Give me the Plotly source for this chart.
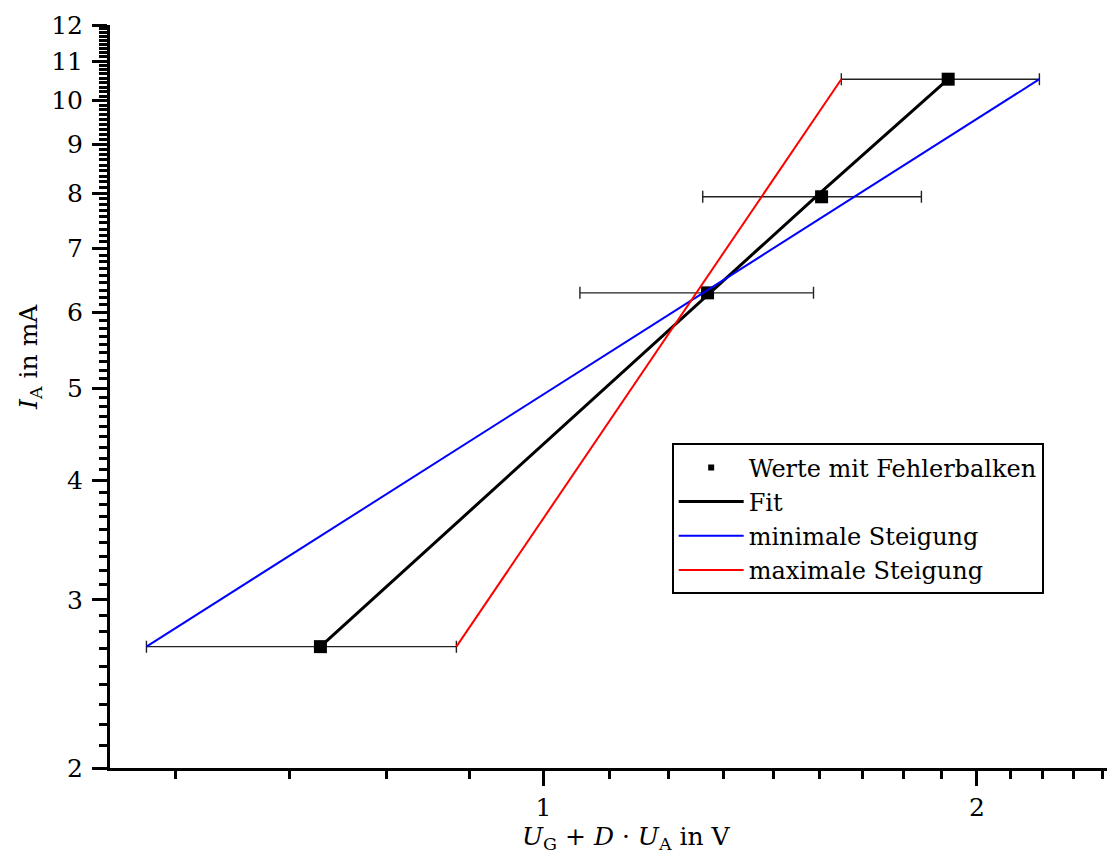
import math
import plotly.graph_objects as go

# data (U in V, I in mA)
u_vals = [0.70, 1.30, 1.56, 1.91]
i_vals = [2.68, 6.29, 7.93, 10.53]
u_err = [0.17, 0.24, 0.27, 0.30]
fit_i = [2.68, 6.26, 8.03, 10.53]

x_tick_vals = [1, 2]
x_tick_text = ["1", "2"]
y_tick_vals = [2, 3, 4, 5, 6, 7, 8, 9, 10, 11, 12]
y_tick_text = [str(v) for v in y_tick_vals]

legend_names = ["Werte mit Fehlerbalken", "Fit", "minimale Steigung", "maximale Steigung"]

# minor ticks: ninths between integers
x_minor = [1 - k / 9 for k in range(1, 5)] + [1 + k / 9 for k in range(1, 9)] + [2 + k / 9 for k in range(1, 5)]
y_minor = [n + k / 9 for n in range(2, 12) for k in range(1, 9)]

FONT = "DejaVu Serif"

fig = go.Figure()

# data points with error bars
fig.add_trace(go.Scatter(
    x=u_vals, y=i_vals, mode="markers", showlegend=False,
    marker=dict(symbol="square", size=13, color="black"),
    error_x=dict(type="data", array=u_err, color="#222222", thickness=1.4, width=6),
))
# legend proxy for data points
fig.add_trace(go.Scatter(
    x=[None], y=[None], mode="markers", name=legend_names[0], legendrank=1,
    marker=dict(symbol="square", size=6, color="black"),
))
# fit
fig.add_trace(go.Scatter(
    x=u_vals, y=fit_i, mode="lines", name=legend_names[1], legendrank=2,
    line=dict(color="black", width=3),
))
# minimal slope
fig.add_trace(go.Scatter(
    x=[u_vals[0] - u_err[0], u_vals[-1] + u_err[-1]], y=[i_vals[0], i_vals[-1]],
    mode="lines", name=legend_names[2], legendrank=3,
    line=dict(color="#0000ff", width=2),
))
# maximal slope
fig.add_trace(go.Scatter(
    x=[u_vals[0] + u_err[0], u_vals[-1] - u_err[-1]], y=[i_vals[0], i_vals[-1]],
    mode="lines", name=legend_names[3], legendrank=4,
    line=dict(color="#ff0000", width=2),
))

axis_common = dict(
    showgrid=False, zeroline=False, showline=True, linecolor="black", linewidth=3,
    ticks="outside", ticklen=15, tickwidth=2.5, tickcolor="black",
    tickfont=dict(family=FONT, size=25, color="black"),
)

fig.update_xaxes(
    type="log", range=[math.log10(0.5), math.log10(2.486)],
    tickmode="array", tickvals=x_tick_vals, ticktext=x_tick_text,
    minor=dict(tickmode="array", tickvals=x_minor, ticks="outside", ticklen=8,
               tickwidth=2.5, tickcolor="black"),
    **axis_common,
)
fig.update_yaxes(
    type="log", range=[math.log10(2), math.log10(12)],
    tickmode="array", tickvals=y_tick_vals, ticktext=y_tick_text,
    ticklabelstandoff=4,
    minor=dict(tickmode="array", tickvals=y_minor, ticks="outside", ticklen=8,
               tickwidth=2.5, tickcolor="black"),
    **axis_common,
)

fig.add_annotation(
    text="<i>U</i><sub>G</sub> + <i>D</i> · <i>U</i><sub>A</sub> in V",
    xref="paper", yref="paper", x=0.5145, y=-0.094, showarrow=False,
    xanchor="center", yanchor="middle", font=dict(family=FONT, size=25, color="black"),
)
fig.add_annotation(
    text="<i>I</i><sub>A</sub> in mA", textangle=-90,
    xref="paper", yref="paper", x=-0.08, y=0.553, showarrow=False,
    xanchor="center", yanchor="middle", font=dict(family=FONT, size=25, color="black"),
)

# page body has an 8px margin, so the figure is a little smaller than the window
fig.update_layout(
    width=1107, height=849,
    margin=dict(l=102, r=2, t=17, b=89),
    paper_bgcolor="white", plot_bgcolor="white",
    font=dict(family=FONT, size=25, color="black"),
    legend=dict(
        x=0.560, y=0.437, xanchor="left", yanchor="top",
        bgcolor="white", bordercolor="black", borderwidth=2,
        font=dict(family=FONT, size=24, color="black"),
        itemwidth=65, tracegroupgap=0,
    ),
)

fig.write_html("out.html")
